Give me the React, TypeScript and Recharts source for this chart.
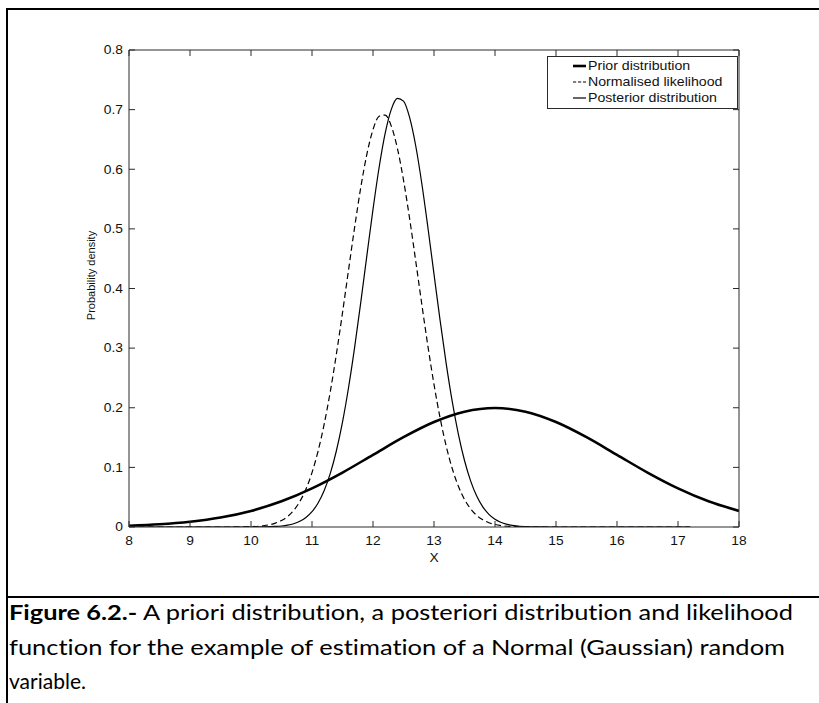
import React from 'react';
import { LineChart, Line, XAxis, YAxis, Legend } from 'recharts';

// ---------- data ----------
const xTicks = [8, 9, 10, 11, 12, 13, 14, 15, 16, 17, 18];
const yTicks = [0, 0.1, 0.2, 0.3, 0.4, 0.5, 0.6, 0.7, 0.8];
const yTickLabels = ['0', '0.1', '0.2', '0.3', '0.4', '0.5', '0.6', '0.7', '0.8'];

const priorX = [8, 8.5, 9, 9.5, 10, 10.5, 11, 11.5, 12, 12.5, 13, 13.5, 14, 14.5, 15, 15.5, 16, 16.5, 17, 17.5, 18];
const priorDensity = [0.0022, 0.0045, 0.0088, 0.0159, 0.027, 0.0431, 0.0648, 0.0913, 0.121, 0.1506, 0.176, 0.1933, 0.1995, 0.1933, 0.176, 0.1506, 0.121, 0.0913, 0.0648, 0.0431, 0.027];

const narrowX = [8, 9.6, 9.8, 10.0, 10.2, 10.4, 10.5, 10.6, 10.7, 10.8, 10.9, 11.0, 11.1, 11.2, 11.3, 11.4, 11.5, 11.6, 11.7, 11.8, 11.9, 12.0, 12.1, 12.2, 12.3, 12.4, 12.5, 12.6, 12.7, 12.8, 12.9, 13.0, 13.1, 13.2, 13.3, 13.4, 13.5, 13.6, 13.7, 13.8, 13.9, 14.0, 14.2, 14.4, 14.6, 14.8, 15.0, 17.2];
const likelihoodDensity = [0, 0, 0.0002, 0.0006, 0.0021, 0.0065, 0.0109, 0.0177, 0.0279, 0.0427, 0.0633, 0.0912, 0.1274, 0.1727, 0.2272, 0.2901, 0.3593, 0.4318, 0.5035, 0.5697, 0.6255, 0.6664, 0.6889, 0.6909, 0.6724, 0.635, 0.5819, 0.5174, 0.4463, 0.3736, 0.3034, 0.2392, 0.1829, 0.1357, 0.0977, 0.0683, 0.0463, 0.0305, 0.0194, 0.012, 0.0072, 0.0042, 0.0013, 0.0004, 0.0001, 0, 0, 0];
const posteriorDensity = [0, 0, 0, 0, 0.0002, 0.0009, 0.0017, 0.0031, 0.0055, 0.0095, 0.0159, 0.0257, 0.0403, 0.0612, 0.0899, 0.1279, 0.176, 0.2344, 0.3022, 0.3771, 0.4556, 0.5327, 0.6029, 0.6605, 0.7005, 0.7189, 0.7143, 0.6869, 0.6394, 0.5761, 0.5023, 0.4241, 0.3465, 0.274, 0.2098, 0.1555, 0.1115, 0.0774, 0.052, 0.0338, 0.0213, 0.013, 0.0044, 0.0013, 0.0003, 0.0001, 0, 0];

const seriesNames = ['Prior distribution', 'Normalised likelihood', 'Posterior distribution'];
const xAxisTitle = 'X';
const yAxisTitle = 'Probability density';
const captionBold = 'Figure 6.2.-';
const captionLine1 = ' A priori distribution, a posteriori distribution and likelihood';
const captionLine2 = 'function for the example of estimation of a Normal (Gaussian) random';
const captionLine3 = 'variable.';

// ---------- built tables ----------
const priorData = priorX.map((x, i) => ({ x, y: priorDensity[i] }));
const likelihoodData = narrowX.map((x, i) => ({ x, y: likelihoodDensity[i] }));
const posteriorData = narrowX.map((x, i) => ({ x, y: posteriorDensity[i] }));

const AXIS = '#2a2a2a';
const FONT = '"Liberation Sans", Arial, Helvetica, sans-serif';
const CAPTION_FONT = 'Lato, "Open Sans", sans-serif';
const TICK_LEN = 6;
const STRETCH = 1.15;

const seriesStyles = [
  { width: 2.6, dash: undefined as string | undefined, legendDash: undefined as string | undefined },
  { width: 1.2, dash: '6 3.5', legendDash: '3.2 1.8' },
  { width: 1.2, dash: undefined, legendDash: undefined },
];

const fmtY = (v: number) => {
  const i = yTicks.findIndex((t) => Math.abs(t - v) < 1e-9);
  return i >= 0 ? yTickLabels[i] : String(v);
};

const BottomTick = (props: any) => {
  const { x, y, payload } = props;
  return (
    <g>
      <line x1={x} y1={y} x2={x} y2={y - TICK_LEN} stroke={AXIS} strokeWidth={1} />
      <text
        transform={`translate(${x}, ${y + 18}) scale(${STRETCH}, 1)`}
        textAnchor="middle"
        fontSize={12}
        fontFamily={FONT}
        fill="#111"
      >
        {payload.value}
      </text>
    </g>
  );
};

const TopTick = (props: any) => {
  const { x, y } = props;
  return <line x1={x} y1={y} x2={x} y2={y + TICK_LEN} stroke={AXIS} strokeWidth={1} />;
};

const LeftTick = (props: any) => {
  const { x, y, payload } = props;
  return (
    <g>
      <line x1={x} y1={y} x2={x + TICK_LEN} y2={y} stroke={AXIS} strokeWidth={1} />
      <text
        transform={`translate(${x - 6}, ${y + 4.3}) scale(${STRETCH}, 1)`}
        textAnchor="end"
        fontSize={12}
        fontFamily={FONT}
        fill="#111"
      >
        {fmtY(payload.value)}
      </text>
    </g>
  );
};

const RightTick = (props: any) => {
  const { x, y } = props;
  return <line x1={x} y1={y} x2={x - TICK_LEN} y2={y} stroke={AXIS} strokeWidth={1} />;
};

const LegendBox = () => (
  <svg width={192} height={54} style={{ display: 'block' }}>
    <rect x={0.5} y={0.5} width={190} height={52} fill="#fff" stroke={AXIS} strokeWidth={1} />
    {seriesNames.map((name, i) => {
      const cy = 10 + i * 16;
      const st = seriesStyles[i];
      return (
        <g key={name}>
          <line x1={26} y1={cy} x2={39} y2={cy} stroke="#000" strokeWidth={st.width} strokeDasharray={st.legendDash} />
          <text
            transform={`translate(41, ${cy + 4.2}) scale(1.18, 1)`}
            fontSize={12}
            fontFamily={FONT}
            fill="#111"
          >
            {name}
          </text>
        </g>
      );
    })}
  </svg>
);

const YLabel = (props: any) => {
  const vb = props.viewBox || { x: 0, y: 0, width: 0, height: 0 };
  const cx = vb.x + vb.width - 38;
  const cy = vb.y + vb.height / 2 - 13;
  return (
    <text
      x={cx}
      y={cy}
      transform={`rotate(-90, ${cx}, ${cy})`}
      textAnchor="middle"
      dominantBaseline="central"
      fontSize={11}
      fontFamily={FONT}
      fill="#111"
    >
      {yAxisTitle}
    </text>
  );
};

const XLabel = (props: any) => {
  const vb = props.viewBox || { x: 0, y: 0, width: 0, height: 0 };
  return (
    <text
      transform={`translate(${vb.x + vb.width / 2}, ${vb.y + 35}) scale(${STRETCH}, 1)`}
      textAnchor="middle"
      fontSize={12}
      fontFamily={FONT}
      fill="#111"
    >
      {xAxisTitle}
    </text>
  );
};

const captionStyle: React.CSSProperties = { fontVariantLigatures: 'none', fontFeatureSettings: '"liga" 0, "clig" 0, "dlig" 0' };

export default function App() {
  return (
    <div style={{ position: 'absolute', left: 0, top: 0, width: 819, height: 703, background: '#fff', overflow: 'hidden' }}>
      {/* frame */}
      <div
        style={{
          position: 'absolute',
          left: 6,
          top: 8,
          width: 813,
          height: 695,
          borderLeft: '2px solid #000',
          borderTop: '2px solid #000',
          boxSizing: 'border-box',
        }}
      />
      <div style={{ position: 'absolute', left: 6, top: 596, width: 813, height: 2, background: '#000' }} />

      <div style={{ position: 'absolute', left: 0, top: 0 }}>
        <LineChart width={819} height={590} margin={{ top: 40, right: 70, bottom: 23, left: 69 }}>
          <XAxis
            xAxisId={0}
            dataKey="x"
            type="number"
            domain={[8, 18]}
            ticks={xTicks}
            interval={0}
            allowDataOverflow
            height={40}
            tickSize={0}
            tickMargin={0}
            tickLine={false}
            axisLine={{ stroke: AXIS, strokeWidth: 1 }}
            tick={<BottomTick />}
            label={<XLabel />}
          />
          <XAxis
            xAxisId="top"
            orientation="top"
            dataKey="x"
            type="number"
            domain={[8, 18]}
            ticks={xTicks}
            interval={0}
            allowDataOverflow
            height={10}
            tickSize={0}
            tickMargin={0}
            tickLine={false}
            axisLine={{ stroke: AXIS, strokeWidth: 1 }}
            tick={<TopTick />}
          />
          <YAxis
            yAxisId={0}
            type="number"
            domain={[0, 0.8]}
            ticks={yTicks}
            interval={0}
            allowDataOverflow
            width={60}
            tickSize={0}
            tickMargin={0}
            tickLine={false}
            axisLine={{ stroke: AXIS, strokeWidth: 1 }}
            tick={<LeftTick />}
            label={<YLabel />}
          />
          <YAxis
            yAxisId="right"
            orientation="right"
            type="number"
            domain={[0, 0.8]}
            ticks={yTicks}
            interval={0}
            allowDataOverflow
            width={10}
            tickSize={0}
            tickMargin={0}
            tickLine={false}
            axisLine={{ stroke: AXIS, strokeWidth: 1 }}
            tick={<RightTick />}
          />
          <Line
            data={priorData}
            dataKey="y"
            name={seriesNames[0]}
            type="monotone"
            stroke="#000"
            strokeWidth={seriesStyles[0].width}
            dot={false}
            activeDot={false}
            isAnimationActive={false}
          />
          <Line
            data={likelihoodData}
            dataKey="y"
            name={seriesNames[1]}
            type="monotone"
            stroke="#000"
            strokeWidth={seriesStyles[1].width}
            strokeDasharray={seriesStyles[1].dash}
            dot={false}
            activeDot={false}
            isAnimationActive={false}
          />
          <Line
            data={posteriorData}
            dataKey="y"
            name={seriesNames[2]}
            type="monotone"
            stroke="#000"
            strokeWidth={seriesStyles[2].width}
            dot={false}
            activeDot={false}
            isAnimationActive={false}
          />
          <Legend
            layout="vertical"
            align="center"
            verticalAlign="middle"
            wrapperStyle={{ left: 547, top: 56, width: 192, height: 54 }}
            content={() => <LegendBox />}
          />
        </LineChart>
      </div>

      {/* caption */}
      <svg width={819} height={105} style={{ position: 'absolute', left: 0, top: 598 }}>
        <text x={9} y={22} fontSize={21} fontFamily={CAPTION_FONT} fill="#000" style={captionStyle} textLength={784} lengthAdjust="spacingAndGlyphs">
          <tspan fontWeight="bold">{captionBold}</tspan>
          <tspan>{captionLine1}</tspan>
        </text>
        <text x={9} y={57} fontSize={21} fontFamily={CAPTION_FONT} fill="#000" style={captionStyle} textLength={776} lengthAdjust="spacingAndGlyphs">
          {captionLine2}
        </text>
        <text x={9} y={91} fontSize={21} fontFamily={CAPTION_FONT} fill="#000" style={captionStyle}>
          {captionLine3}
        </text>
      </svg>
    </div>
  );
}
